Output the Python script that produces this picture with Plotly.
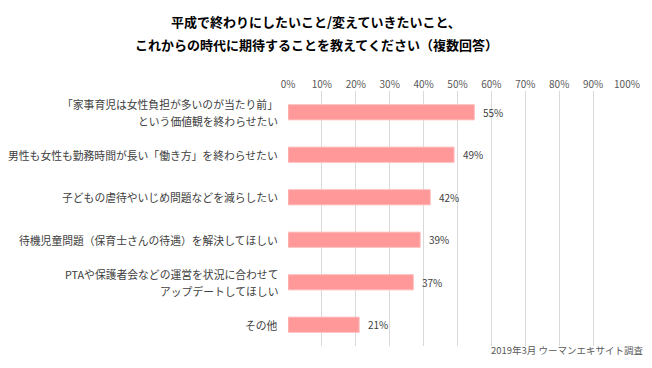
import plotly.graph_objects as go

categories = [
    "「家事育児は女性負担が多いのが当たり前」<br>という価値観を終わらせたい",
    "男性も女性も勤務時間が長い「働き方」を終わらせたい",
    "子どもの虐待やいじめ問題などを減らしたい",
    "待機児童問題（保育士さんの待遇）を解決してほしい",
    "PTAや保護者会などの運営を状況に合わせて<br>アップデートしてほしい",
    "その他",
]
values = [55, 49, 42, 39, 37, 21]
tick_vals = [0, 10, 20, 30, 40, 50, 60, 70, 80, 90, 100]
tick_text = [f"{v}%" for v in tick_vals]
title_lines = [
    "平成で終わりにしたいこと/変えていきたいこと、",
    "これからの時代に期待することを教えてください（複数回答）",
]
source_text = "2019年3月 ウーマンエキサイト調査"

FONT = "Noto Sans CJK JP"
LINE_GAP = 17

fig = go.Figure()
fig.add_trace(go.Bar(
    y=categories,
    x=values,
    orientation="h",
    marker=dict(color="#FF9999", line=dict(color="#FFC4C4", width=1)),
    hoverinfo="skip",
))

annotations = []
for c, v in zip(categories, values):
    annotations.append(dict(
        x=v, y=c, xref="x", yref="y", text=f"{v}%", showarrow=False,
        xanchor="left", xshift=7, font=dict(family=FONT, size=10, color="#404040"),
    ))
    lines = c.split("<br>")
    n = len(lines)
    for i, ln in enumerate(lines):
        offset = ((n - 1) / 2 - i) * LINE_GAP
        annotations.append(dict(
            x=0, y=c, xref="paper", yref="y", text=ln, showarrow=False,
            xanchor="right", yanchor="middle", xshift=-8, yshift=offset,
            font=dict(family=FONT, size=10.8, color="#404040"),
        ))
for line, ypos in zip(title_lines, [1.2706, 1.1804]):
    annotations.append(dict(
        x=0.0826, y=ypos, xref="paper", yref="paper", text=line, showarrow=False,
        xanchor="center", yanchor="middle",
        font=dict(family=FONT, size=13, color="#000000", weight="bold"),
    ))
annotations.append(dict(
    x=1.0, y=-0.0157, xref="paper", yref="paper", text=source_text, showarrow=False,
    xanchor="right", yanchor="middle", xshift=18,
    font=dict(family=FONT, size=9.5, color="#595959"),
))

fig.update_layout(
    width=652, height=368,
    margin=dict(l=288, r=25, t=91, b=22, autoexpand=False),
    paper_bgcolor="white", plot_bgcolor="white",
    showlegend=False,
    bargap=0.64,
    xaxis=dict(
        range=[0, 100], side="top", tickvals=tick_vals, ticktext=tick_text,
        showgrid=True, gridcolor="#D9D9D9", gridwidth=1,
        zeroline=False, showline=False, ticks="",
        tickfont=dict(family=FONT, size=10, color="#595959"),
        fixedrange=True,
    ),
    yaxis=dict(
        autorange="reversed", showgrid=False, showline=False, ticks="",
        showticklabels=False, automargin=False, fixedrange=True,
    ),
    annotations=annotations,
)

fig.write_html(
    "out.html",
    config={"displayModeBar": False, "staticPlot": True},
    post_script="document.body.style.margin='0';",
)
